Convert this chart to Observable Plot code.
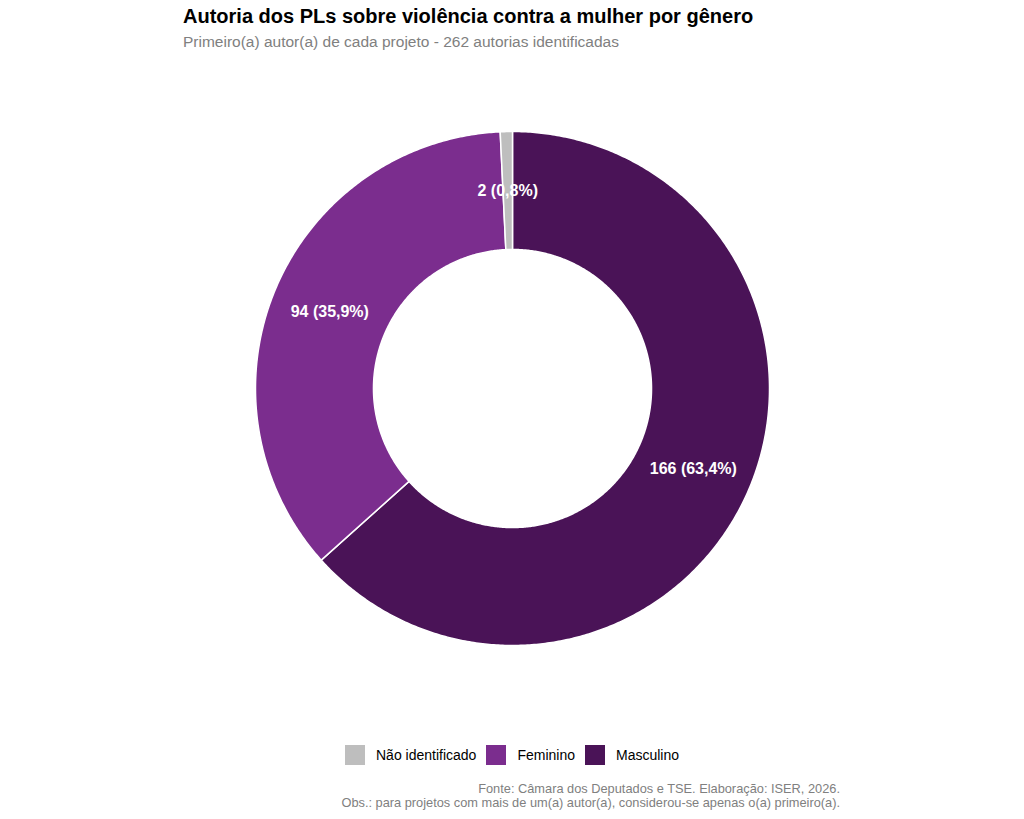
<!DOCTYPE html>
<html>
<head>
<meta charset="utf-8">
<script src="https://cdn.jsdelivr.net/npm/d3@7"></script>
<script src="https://cdn.jsdelivr.net/npm/@observablehq/plot@0.6"></script>
<style>
  body { margin: 0; background: #fff; font-family: "Liberation Sans", Arial, Helvetica, sans-serif; }
  #wrap { position: relative; width: 1024px; height: 819px; overflow: hidden; }
  #title { position: absolute; left: 183px; top: 5px; font-size: 20px; font-weight: bold; color: #000; white-space: nowrap; }
  #subtitle { position: absolute; left: 183px; top: 33px; font-size: 15.5px; color: #808080; white-space: nowrap; }
  #chart { position: absolute; left: 0; top: 0; }
  #legend { position: absolute; left: 0; width: 1024px; top: 745px; display: flex; justify-content: center; align-items: center; font-size: 14px; color: #000; }
  .item { display: flex; align-items: center; margin: 0 5px; }
  .sw { width: 20px; height: 20px; margin-right: 11px; }
  #caption { position: absolute; right: 184px; top: 782px; text-align: right; font-size: 12.8px; color: #808080; line-height: 14px; white-space: nowrap; }
</style>
</head>
<body>
<div id="wrap">
  <div id="title">Autoria dos PLs sobre violência contra a mulher por gênero</div>
  <div id="subtitle">Primeiro(a) autor(a) de cada projeto - 262 autorias identificadas</div>
  <div id="chart"></div>
  <div id="legend"></div>
  <div id="caption">Fonte: Câmara dos Deputados e TSE. Elaboração: ISER, 2026.<br>Obs.: para projetos com mais de um(a) autor(a), considerou-se apenas o(a) primeiro(a).</div>
</div>
<script>
// Data (clockwise from 12 o'clock)
const categories = ["Masculino", "Feminino", "Não identificado"];
const counts = [166, 94, 2];
const labels = ["166 (63,4%)", "94 (35,9%)", "2 (0,8%)"];
// Legend order and colours
const legendOrder = ["Não identificado", "Feminino", "Masculino"];
const legendColors = ["#BEBEBE", "#7B2D8E", "#4A1357"];

const innerR = 0.541, outerR = 1;
const pie = d3.pie().sort(null).value(d => d.count)(categories.map((c, i) => ({cat: c, count: counts[i], label: labels[i]})));

// polygon vertices for each slice, derived from d3.pie angles
const poly = [];
pie.forEach(p => {
  const n = Math.max(4, Math.ceil((p.endAngle - p.startAngle) / (Math.PI / 360)));
  for (let k = 0; k <= n; k++) {
    const a = p.startAngle + (p.endAngle - p.startAngle) * k / n;
    poly.push({cat: p.data.cat, x: outerR * Math.sin(a), y: outerR * Math.cos(a)});
  }
  for (let k = n; k >= 0; k--) {
    const a = p.startAngle + (p.endAngle - p.startAngle) * k / n;
    poly.push({cat: p.data.cat, x: innerR * Math.sin(a), y: innerR * Math.cos(a)});
  }
  poly.push({cat: p.data.cat, x: outerR * Math.sin(p.startAngle), y: outerR * Math.cos(p.startAngle)});
});
const midR = (innerR + outerR) / 2;
const labelData = pie.map(p => {
  const a = (p.startAngle + p.endAngle) / 2;
  return {label: p.data.label, x: midR * Math.sin(a), y: midR * Math.cos(a)};
});

const chart = Plot.plot({
  width: 1024,
  height: 700,
  marginLeft: 255,
  marginRight: 255,
  marginTop: 131,
  marginBottom: 55,
  x: {domain: [-1, 1], axis: null},
  y: {domain: [-1, 1], axis: null},
  color: {domain: legendOrder, range: legendColors},
  style: {fontFamily: "Liberation Sans, Arial, sans-serif", background: "transparent"},
  marks: [
    Plot.line(poly, {x: "x", y: "y", z: "cat", fill: "cat", stroke: "white", strokeWidth: 1.5, curve: "linear"}),
    Plot.text(labelData, {x: "x", y: "y", text: "label", fill: "white", fontSize: 16, fontWeight: "bold"})
  ]
});
document.getElementById("chart").appendChild(chart);

const leg = document.getElementById("legend");
legendOrder.forEach((c, i) => {
  const it = document.createElement("div");
  it.className = "item";
  const sw = document.createElement("div");
  sw.className = "sw";
  sw.style.background = legendColors[i];
  const t = document.createElement("span");
  t.textContent = c;
  it.appendChild(sw); it.appendChild(t);
  leg.appendChild(it);
});
</script>
</body>
</html>
